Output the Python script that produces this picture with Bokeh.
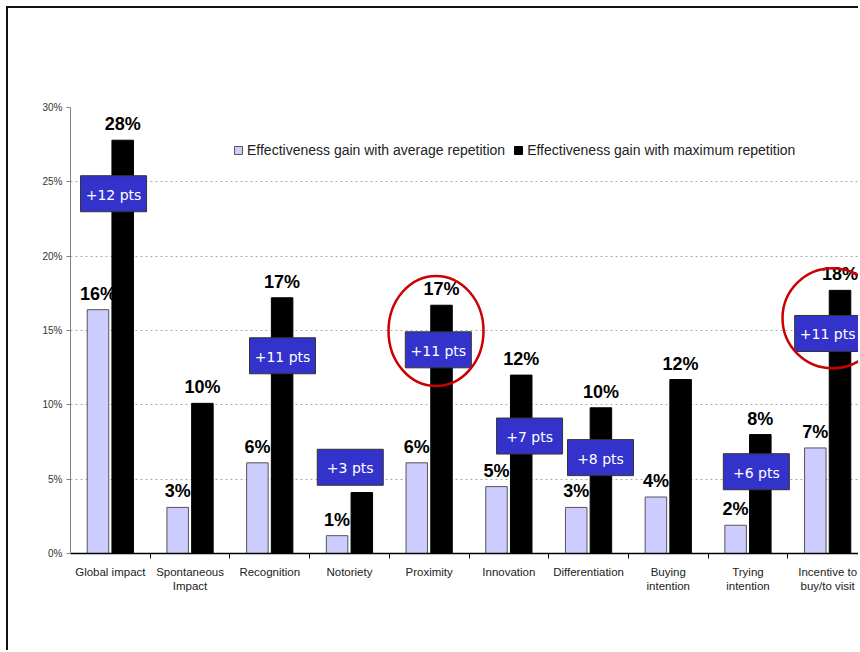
from bokeh.plotting import figure
from bokeh.models import FixedTicker, Legend, LegendItem, ColumnDataSource, CustomJSTickFormatter
from bokeh.core.properties import value
from bokeh.embed import file_html
from bokeh.resources import INLINE

# ---- data ----
categories = ["Global impact", "Spontaneous\nImpact", "Recognition", "Notoriety", "Proximity",
              "Innovation", "Differentiation", "Buying\nintention", "Trying\nintention",
              "Incentive to\nbuy/to visit"]
avg_gain = [16.4, 3.1, 6.1, 1.2, 6.1, 4.5, 3.1, 3.8, 1.9, 7.1]
max_gain = [27.8, 10.1, 17.2, 4.1, 16.7, 12.0, 9.8, 11.7, 8.0, 17.7]
avg_labels = ["16%", "3%", "6%", "1%", "6%", "5%", "3%", "4%", "2%", "7%"]
max_labels = ["28%", "10%", "17%", "", "17%", "12%", "10%", "12%", "8%", "18%"]
y_ticks = [0, 5, 10, 15, 20, 25, 30]
series_names = ["Effectiveness gain with average repetition",
                "Effectiveness gain with maximum repetition"]

gain_cats = [0, 2, 3, 4, 5, 6, 8, 9]
gain_texts = ["+12 pts", "+11 pts", "+3 pts", "+11 pts", "+7 pts", "+8 pts", "+6 pts", "+11 pts"]
highlight_cats = [4, 9]

# ---- annotation placement (not data) ----
box_dx = [0.04, 0.16, 0.01, 0.115, 0.26, 0.15, 0.105, 0.0]
box_y = [24.2, 13.3, 5.8, 13.7, 7.9, 6.45, 5.5, 14.8]
circle_dx = [0.086, 0.061]
circle_y = [14.97, 15.82]
circle_w = [95, 100]
circle_h = [110, 100]

n = len(categories)
centers = [i + 0.5 for i in range(n)]
off = 0.155
bw = 0.27

p = figure(width=852, height=644, output_backend="svg", toolbar_location=None,
           x_range=(0, 9.912), y_range=(0, 30),
           min_border_left=62, min_border_right=0, min_border_top=99, min_border_bottom=99)
p.styles = {"margin-left": "6px", "margin-top": "6px",
            "border-left": "2px solid #111", "border-top": "2px solid #111"}
p.outline_line_color = None
p.background_fill_color = "white"
p.border_fill_color = "white"

src_a = ColumnDataSource(dict(x=[c - off for c in centers], top=avg_gain, lab=avg_labels))
src_m = ColumnDataSource(dict(x=[c + off for c in centers], top=max_gain, lab=max_labels))

r_a = p.vbar(x="x", top="top", width=bw, source=src_a, fill_color="#ccccff",
             line_color="#555555", line_width=1)
r_m = p.vbar(x="x", top="top", width=bw, source=src_m, fill_color="black",
             line_color="black", line_width=1)

for src in (src_a, src_m):
    p.text(x="x", y="top", text="lab", source=src, text_align="center",
           text_baseline="alphabetic", y_offset=-16,
           text_font=value("Liberation Sans"), text_font_style="bold",
           text_font_size="18px", text_color="black")

# gain boxes
bsrc = ColumnDataSource(dict(x=[gain_cats[i] + 0.5 + box_dx[i] for i in range(len(gain_cats))],
                             y=box_y, t=gain_texts))
p.rect(x="x", y="y", width=66, height=36, width_units="screen", height_units="screen",
       source=bsrc, fill_color="#3333cc", line_color="#333333", line_width=1)
p.text(x="x", y="y", text="t", source=bsrc, text_align="center", text_baseline="middle",
       y_offset=1, text_font=value("DejaVu Sans"), text_font_size="14px", text_color="white")

# highlight circles
csrc = ColumnDataSource(dict(x=[highlight_cats[i] + 0.5 + circle_dx[i] for i in range(2)],
                             y=circle_y, w=circle_w, h=circle_h))
p.ellipse(x="x", y="y", width="w", height="h", width_units="screen", height_units="screen",
          source=csrc, fill_color=None, line_color="#cc0000", line_width=2.5)

# axes
p.yaxis.ticker = FixedTicker(ticks=y_ticks)
p.yaxis.formatter = CustomJSTickFormatter(code="return tick.toFixed(0) + '%';")
p.yaxis.axis_line_color = "#808080"
p.yaxis.major_tick_line_color = "#808080"
p.yaxis.major_tick_out = 4
p.yaxis.major_tick_in = 0
p.yaxis.minor_tick_line_color = None
p.yaxis.major_label_text_font = "Liberation Sans"
p.yaxis.major_label_text_font_size = "10px"
p.yaxis.major_label_text_color = "#333333"
p.yaxis.major_label_standoff = 4

p.xaxis.ticker = FixedTicker(ticks=centers, minor_ticks=list(range(1, n)))
p.xaxis.major_label_overrides = {c: categories[i] for i, c in enumerate(centers)}
p.xaxis.axis_line_color = "black"
p.xaxis.axis_line_width = 1.5
p.xaxis.major_tick_line_color = None
p.xaxis.minor_tick_line_color = "black"
p.xaxis.minor_tick_out = 5
p.xaxis.minor_tick_in = 0
p.xaxis.major_label_text_font = "Liberation Sans"
p.xaxis.major_label_text_font_size = "11.5px"
p.xaxis.major_label_text_color = "#222222"
p.xaxis.major_label_standoff = 6

p.xgrid.grid_line_color = None
p.ygrid.ticker = FixedTicker(ticks=y_ticks[1:])
p.ygrid.grid_line_color = "#aaaaaa"
p.ygrid.grid_line_dash = "2 3"

legend = Legend(items=[LegendItem(label=series_names[0], renderers=[r_a]),
                       LegendItem(label=series_names[1], renderers=[r_m])],
                orientation="horizontal", location=(163, 395),
                glyph_width=10, glyph_height=10, label_standoff=4, spacing=8,
                padding=0, margin=0, label_height=14,
                label_text_font="Liberation Sans", label_text_font_size="14px",
                label_text_color="#222222", border_line_color=None,
                background_fill_alpha=0)
p.add_layout(legend)

open("out.html", "w").write(file_html(p, INLINE))
